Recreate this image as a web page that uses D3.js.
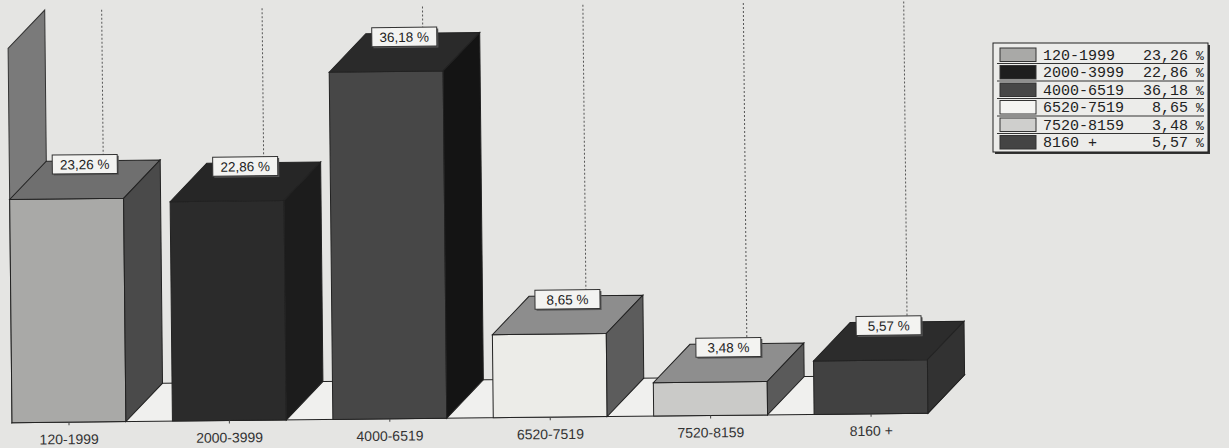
<!DOCTYPE html>
<html>
<head>
<meta charset="utf-8">
<style>
body { margin: 0; background: #e5e5e3; }
svg { display: block; }
.tick text { font-family: "Liberation Sans", Arial, sans-serif; font-size: 14px; fill: #333; }
.tick line { stroke: #444; }
</style>
</head>
<body>
<div id="chart"></div>
<script src="https://d3js.org/d3.v7.min.js"></script>
<script>

// data
var categories = ["120-1999", "2000-3999", "4000-6519", "6520-7519", "7520-8159", "8160 +"];
var values = [23.26, 22.86, 36.18, 8.65, 3.48, 5.57];
var valueLabels = ["23,26 %", "22,86 %", "36,18 %", "8,65 %", "3,48 %", "5,57 %"];
var legendValues = ["23,26", "22,86", "36,18", "8,65", "3,48", "5,57"];

// greys of the printed faces: front, top, side
var frontColors = ["#a9a9a7", "#2b2b2b", "#474747", "#ecece8", "#cacac8", "#414141"];
var topColors   = ["#6f6f6f", "#262626", "#2a2a2a", "#8d8d8d", "#8e8e8e", "#2c2c2c"];
var sideColors  = ["#4a4a4a", "#1c1c1c", "#141414", "#5c5c5c", "#5a5a5a", "#323232"];
var swatchColors = ["#a9a9a7", "#1e1e1e", "#474747", "#f4f4f2", "#cfcfcd", "#444444"];

var W = 1229, H = 448;
var base = 418, dx = 37, dy = 38;

var x = d3.scaleBand().domain(categories).range([12, 928]).paddingInner(0.29).paddingOuter(0);
var y = d3.scaleLinear().domain([0, 39]).range([base, base - 39 * 9.6]);

var svg = d3.select("#chart").append("svg")
    .attr("width", W)
    .attr("height", H);

// the photo is slightly tilted
var g = svg.append("g")
    .attr("transform", "rotate(-0.6, 470, " + base + ")");

function pts(a) { return a.map(function(p) { return p.join(","); }).join(" "); }

var x0 = x.range()[0], x1 = x(categories[categories.length - 1]) + x.bandwidth();

// left wall
g.append("polygon")
    .attr("points", pts([[x0, y(39)], [x0 + dx, y(39) - dy], [x0 + dx, base - dy], [x0, base]]))
    .attr("fill", "#7a7a7a")
    .attr("stroke", "#333");

// floor
g.append("polygon")
    .attr("points", pts([[x0, base], [x1, base], [x1 + dx, base - dy], [x0 + dx, base - dy]]))
    .attr("fill", "#f0f0ee")
    .attr("stroke", "#222");

var data = categories.map(function(c, i) {
  return {cat: c, v: values[i], label: valueLabels[i], i: i};
});

var bars = g.selectAll(".bar").data(data).enter().append("g").attr("class", "bar");

// front
bars.append("rect")
    .attr("x", function(d) { return x(d.cat); })
    .attr("y", function(d) { return y(d.v); })
    .attr("width", x.bandwidth())
    .attr("height", function(d) { return base - y(d.v); })
    .attr("fill", function(d) { return frontColors[d.i]; })
    .attr("stroke", "#222");

// top
bars.append("polygon")
    .attr("points", function(d) {
      var a = x(d.cat), b = a + x.bandwidth(), t = y(d.v);
      return pts([[a, t], [b, t], [b + dx, t - dy], [a + dx, t - dy]]);
    })
    .attr("fill", function(d) { return topColors[d.i]; })
    .attr("stroke", "#222");

// right side
bars.append("polygon")
    .attr("points", function(d) {
      var b = x(d.cat) + x.bandwidth(), t = y(d.v);
      return pts([[b, t], [b + dx, t - dy], [b + dx, base - dy], [b, base]]);
    })
    .attr("fill", function(d) { return sideColors[d.i]; })
    .attr("stroke", "#222");

// dotted guide lines to the value labels
bars.append("line")
    .attr("x1", function(d) { return x(d.cat) + x.bandwidth() / 2 + dx; })
    .attr("x2", function(d) { return x(d.cat) + x.bandwidth() / 2 + dx; })
    .attr("y1", 6)
    .attr("y2", function(d) { return y(d.v) - dy - 5; })
    .attr("stroke", "#555")
    .attr("stroke-dasharray", "2,2");

// value labels
var lab = bars.append("g")
    .attr("transform", function(d) {
      return "translate(" + (x(d.cat) + x.bandwidth() / 2 + dx / 2) + "," + (y(d.v) - dy + 4) + ")";
    });
lab.append("rect")
    .attr("x", -31).attr("y", -8.5)
    .attr("width", 65).attr("height", 19)
    .attr("fill", "#555");
lab.append("rect")
    .attr("x", -32.5).attr("y", -10)
    .attr("width", 65).attr("height", 19)
    .attr("fill", "#f3f3f1")
    .attr("stroke", "#333");
lab.append("text")
    .attr("y", 4.5)
    .attr("text-anchor", "middle")
    .style("font-family", "'Liberation Sans', Arial, sans-serif")
    .style("font-size", "13.5px")
    .style("fill", "#222")
    .text(function(d) { return d.label; });

// category axis
g.append("g")
    .attr("transform", "translate(0," + base + ")")
    .call(d3.axisBottom(x).tickSize(3).tickPadding(9))
    .call(function(s) { s.select(".domain").remove(); });

// legend
var lg = svg.append("g").attr("transform", "translate(993,43)");
var rowH = 17.5;
lg.append("rect")
    .attr("x", 2).attr("y", 2)
    .attr("width", 215).attr("height", 109)
    .attr("fill", "#333");
lg.append("rect")
    .attr("width", 215).attr("height", 109)
    .attr("fill", "#ececea")
    .attr("stroke", "#222");

var rows = lg.selectAll(".row").data(data).enter().append("g")
    .attr("class", "row")
    .attr("transform", function(d) { return "translate(0," + (3 + d.i * rowH) + ")"; });
rows.append("line")
    .attr("x1", 4).attr("x2", 211)
    .attr("y1", rowH).attr("y2", rowH)
    .attr("stroke", "#333")
    .attr("display", function(d) { return d.i < 5 ? null : "none"; });
rows.append("rect")
    .attr("x", 7).attr("y", 2)
    .attr("width", 36).attr("height", rowH - 4)
    .attr("fill", function(d) { return swatchColors[d.i]; })
    .attr("stroke", "#333");
var mono = "'Liberation Mono', 'DejaVu Sans Mono', monospace";
rows.append("text")
    .attr("x", 50).attr("y", 13.5)
    .style("font-family", mono).style("font-size", "15px").style("fill", "#222")
    .text(function(d) { return d.cat; });
rows.append("text")
    .attr("x", 195).attr("y", 13.5)
    .attr("text-anchor", "end")
    .style("font-family", mono).style("font-size", "15px").style("fill", "#222")
    .text(function(d) { return legendValues[d.i]; });
rows.append("text")
    .attr("x", 203).attr("y", 13.5)
    .style("font-family", mono).style("font-size", "13px").style("fill", "#222")
    .text("%");

</script>
</body>
</html>
